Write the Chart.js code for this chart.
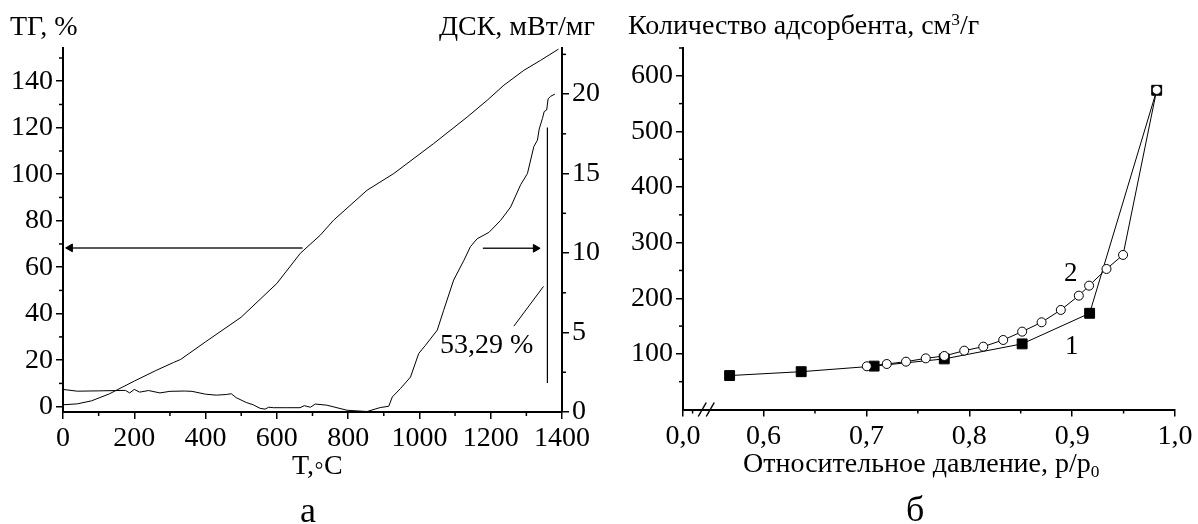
<!DOCTYPE html>
<html>
<head>
<meta charset="utf-8">
<script src="https://cdn.jsdelivr.net/npm/chart.js@4.4.1/dist/chart.umd.min.js"></script>
<style>
  body { margin: 0; background: #fff; width: 1198px; height: 524px; position: relative; overflow: hidden;
         font-family: "Liberation Serif", "Times New Roman", serif; color: #000; }
  canvas { position: absolute; top: 0; }
  #chartA { left: 0; }
  #chartB { left: 600px; }
  .lbl { position: absolute; white-space: nowrap; line-height: 1; }
  .sup { position: relative; top: -0.5em; font-size: 0.62em; }
  .sub { position: relative; top: 0.3em; font-size: 0.62em; }
</style>
</head>
<body>
<canvas id="chartA" width="600" height="524"></canvas>
<canvas id="chartB" width="598" height="524"></canvas>

<div class="lbl" style="left:10px;top:12px;font-size:28px">ТГ, %</div>
<div class="lbl" style="right:603px;top:12px;font-size:28px">ДСК, мВт/мг</div>
<div class="lbl" style="left:292px;top:451px;font-size:28px">T,◦C</div>
<div class="lbl" style="left:440px;top:330px;font-size:28px">53,29 %</div>
<div class="lbl" style="left:300px;top:492px;font-size:36px">а</div>

<div class="lbl" style="left:628px;top:11px;font-size:28px">Количество адсорбента, см<span class="sup">3</span>/г</div>
<div class="lbl" style="left:743px;top:449px;font-size:28px">Относительное давление, p/p<span class="sub">0</span></div>
<div class="lbl" style="left:1064px;top:259px;font-size:27px">2</div>
<div class="lbl" style="left:1065px;top:332px;font-size:27px">1</div>
<div class="lbl" style="left:906px;top:491px;font-size:36px">б</div>

<script>
// ----- DATA: panel a (TG / DSC) -----
const tgTemp  = [0, 40, 80, 130, 200, 260, 310, 330, 400, 500, 600, 666, 722, 759, 853, 928, 1040, 1134, 1190, 1237, 1293, 1340, 1390];
const tgValue = [0.8, 1.2, 2.5, 5.5, 11, 15.5, 19, 20.3, 27.9, 38.5, 53, 66, 73.8, 80.2, 93.1, 100.3, 113.2, 124.6, 131.8, 138.3, 144.7, 149, 153.8];

const dscTemp  = [0, 40, 100, 175, 187, 200, 215, 240, 272, 300, 340, 362, 400, 430, 458, 472, 486, 514, 534, 553, 567, 577, 591, 628, 665, 677, 694, 708, 740, 797, 853, 890, 914, 924, 947, 975, 998, 1017, 1050, 1068, 1096, 1125, 1143, 1162, 1195, 1228, 1256, 1284, 1303, 1321, 1331, 1336, 1345, 1350, 1357, 1361, 1368, 1380];
const dscValue = [1.42, 1.31, 1.33, 1.36, 1.2, 1.42, 1.25, 1.35, 1.2, 1.3, 1.32, 1.3, 1.12, 1.06, 1.1, 1.15, 0.9, 0.6, 0.45, 0.23, 0.18, 0.3, 0.27, 0.27, 0.27, 0.4, 0.3, 0.5, 0.43, 0.11, 0.03, 0.28, 0.36, 0.95, 1.48, 2.2, 3.68, 4.2, 5.15, 6.4, 8.3, 9.55, 10.4, 10.9, 11.3, 12.06, 12.9, 14.3, 15.0, 16.7, 17.1, 17.8, 18.46, 18.9, 19.0, 19.7, 19.86, 20.0];

// arrows and mass-loss marker (T, value)
const tgArrow   = [[672, 68.3], [20, 68.3]];
const dscArrow  = [[1178, 10.3], [1326, 10.3]];
const lossLine  = [[1359, 1.83], [1359, 17.9]];
const lossPointer = [[1265, 5.4], [1348, 7.9]];

const tempTicks = [0, 200, 400, 600, 800, 1000, 1200, 1400];
const tempMinor = [100, 300, 500, 700, 900, 1100, 1300];
const tgTicks   = [0, 20, 40, 60, 80, 100, 120, 140];
const tgMinor   = [10, 30, 50, 70, 90, 110, 130, 150];
const dscTicks  = [0, 5, 10, 15, 20];
const dscMinor  = [2.5, 7.5, 12.5, 17.5, 22.5];

// ----- DATA: panel б (isotherms) -----
const iso1P = [0.567, 0.6366, 0.7075, 0.7757, 0.8514, 0.917, 0.9822];
const iso1V = [61, 68, 78, 91, 118, 173, 574];
const iso2P = [0.7004, 0.7198, 0.7385, 0.7577, 0.7757, 0.7951, 0.8136, 0.833, 0.8514, 0.8703, 0.889, 0.9065, 0.9165, 0.9334, 0.9495, 0.9822];
const iso2V = [77.7, 81.8, 86, 92, 96.2, 105.8, 113, 125, 140, 156.8, 179, 204.7, 222.7, 252.7, 277.9, 574.6];

const pressMin = 0.5217; // axis break: this end is labelled 0,0
const pressTicks  = [pressMin, 0.6, 0.7, 0.8, 0.9, 1.0];
const pressLabels = ['0,0', '0,6', '0,7', '0,8', '0,9', '1,0'];
const pressMinor  = [0.531, 0.65, 0.75, 0.85, 0.95];
const pressBreak  = 0.5443;
const amountTicks = [100, 200, 300, 400, 500, 600];
const amountMinor = [50, 150, 250, 350, 450, 550, 650];

const FONT = { family: '"Liberation Serif", "Times New Roman", serif', size: 28 };
const pts = (xs, ys) => xs.map((x, i) => ({ x, y: ys[i] }));
const pairs = arr => arr.map(p => ({ x: p[0], y: p[1] }));

// ----- PLUGINS -----
const minorTicks = {
    id: 'minorTicks',
    afterDraw(chart, args, opts) {
        const ctx = chart.ctx;
        ctx.save();
        ctx.strokeStyle = '#000';
        ctx.lineWidth = 1.5;
        Object.keys(opts).forEach(id => {
            const s = chart.scales[id];
            if (!s || !Array.isArray(opts[id])) return;
            opts[id].forEach(v => {
                const p = s.getPixelForValue(v);
                ctx.beginPath();
                if (s.axis === 'x') { ctx.moveTo(p, s.top); ctx.lineTo(p, s.top + 4); }
                else if (s.position === 'left') { ctx.moveTo(s.right, p); ctx.lineTo(s.right - 4, p); }
                else { ctx.moveTo(s.left, p); ctx.lineTo(s.left + 4, p); }
                ctx.stroke();
            });
        });
        ctx.restore();
    }
};

const axisBreak = {
    id: 'axisBreak',
    afterDraw(chart, args, opts) {
        if (opts.at == null) return;
        const s = chart.scales.x;
        const x = s.getPixelForValue(opts.at);
        const y = s.top;
        const ctx = chart.ctx;
        ctx.save();
        ctx.strokeStyle = '#000';
        ctx.lineWidth = 1.5;
        [-4, 4].forEach(dx => {
            ctx.beginPath();
            ctx.moveTo(x + dx - 4, y + 7);
            ctx.lineTo(x + dx + 4, y - 7);
            ctx.stroke();
        });
        ctx.restore();
    }
};

function axisStyle(extra) {
    return Object.assign({
        grid: { display: true, drawOnChartArea: false, drawTicks: true, tickLength: 7, color: '#000', lineWidth: 1.5 },
        border: { display: true, color: '#000', width: 2 },
        ticks: { color: '#000', font: FONT, padding: 3, maxRotation: 0, autoSkip: false, callback: v => String(v) }
    }, extra);
}
const fixTicks = vals => scale => { scale.ticks = vals.map(v => ({ value: v })); };

const lineDs = (data, axis, width) => ({
    data, yAxisID: axis, borderColor: '#000', borderWidth: width || 1,
    pointRadius: 0, tension: 0, fill: false
});
const arrowDs = (data, axis, rot) => ({
    data, yAxisID: axis, borderColor: '#222', borderWidth: 1.5, tension: 0,
    pointRadius: [0, 4.5], pointStyle: 'triangle', pointRotation: rot,
    pointBackgroundColor: '#000', pointBorderColor: '#000', pointBorderWidth: 1
});

// ----- CHART a -----
new Chart(document.getElementById('chartA'), {
    type: 'line',
    data: {
        datasets: [
            lineDs(pts(tgTemp, tgValue), 'y'),
            lineDs(pts(dscTemp, dscValue), 'y1'),
            arrowDs(pairs(tgArrow), 'y', -90),
            arrowDs(pairs(dscArrow), 'y1', 90),
            lineDs(pairs(lossLine), 'y1', 1.2),
            lineDs(pairs(lossPointer), 'y1', 1)
        ]
    },
    options: {
        responsive: false,
        animation: false,
        layout: { padding: { top: 48, left: 0, right: 0, bottom: 0 } },
        plugins: { legend: { display: false }, tooltip: { enabled: false },
                   minorTicks: { x: tempMinor, y: tgMinor, y1: dscMinor } },
        scales: {
            x: axisStyle({ type: 'linear', min: 0, max: 1400, afterBuildTicks: fixTicks(tempTicks),
                           afterFit: s => { s.height = 112; } }),
            y: axisStyle({ type: 'linear', position: 'left', min: -2.3, max: 154.3, afterBuildTicks: fixTicks(tgTicks),
                           afterFit: s => { s.width = 63; } }),
            y1: axisStyle({ type: 'linear', position: 'right', min: 0, max: 22.9, afterBuildTicks: fixTicks(dscTicks),
                            afterFit: s => { s.width = 38; } })
        }
    },
    plugins: [minorTicks]
});

// ----- CHART б -----
new Chart(document.getElementById('chartB'), {
    type: 'line',
    data: {
        datasets: [
            { data: pts(iso2P, iso2V), order: 0, borderColor: '#000', borderWidth: 1, tension: 0,
              pointStyle: 'circle', pointRadius: 4.5, pointBackgroundColor: '#fff', pointBorderColor: '#000', pointBorderWidth: 1 },
            { data: pts(iso1P, iso1V), order: 1, borderColor: '#000', borderWidth: 1, tension: 0,
              pointStyle: 'rect', pointRadius: 7, pointBackgroundColor: '#000', pointBorderColor: '#000', pointBorderWidth: 1 }
        ]
    },
    options: {
        responsive: false,
        animation: false,
        layout: { padding: { top: 48, left: 0, right: 23, bottom: 0 } },
        plugins: { legend: { display: false }, tooltip: { enabled: false },
                   minorTicks: { x: pressMinor, y: amountMinor },
                   axisBreak: { at: pressBreak } },
        scales: {
            x: axisStyle({ type: 'linear', min: pressMin, max: 1.0, afterBuildTicks: fixTicks(pressTicks),
                           afterFit: s => { s.height = 114.5; },
                           ticks: { color: '#000', font: FONT, padding: 3, maxRotation: 0, autoSkip: false,
                                    callback: (v, i) => pressLabels[i] } }),
            y: axisStyle({ type: 'linear', position: 'left', min: 0, max: 650, afterBuildTicks: fixTicks(amountTicks),
                           afterFit: s => { s.width = 83; } })
        }
    },
    plugins: [minorTicks, axisBreak]
});
</script>
</body>
</html>
